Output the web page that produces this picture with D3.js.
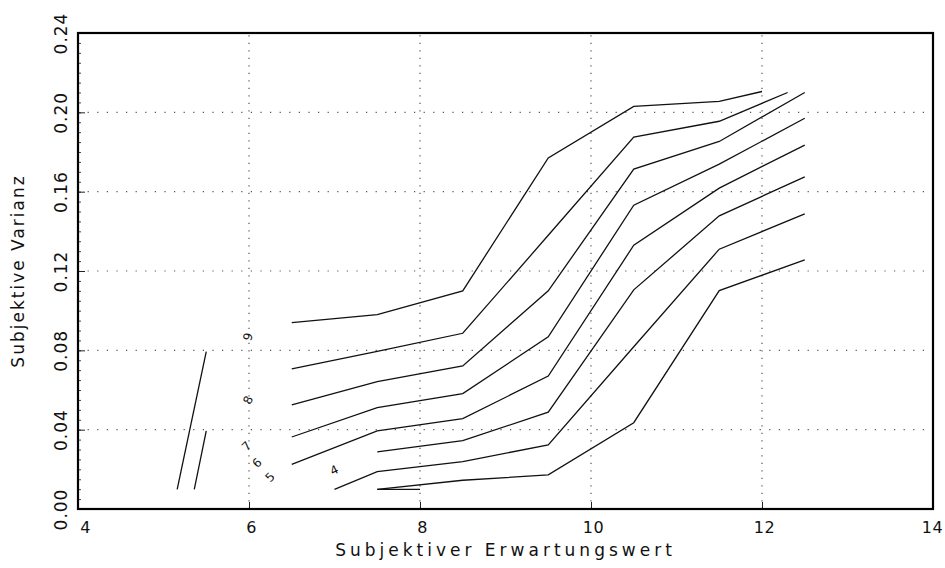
<!DOCTYPE html>
<html>
<head>
<meta charset="utf-8">
<script src="https://cdn.jsdelivr.net/npm/d3@7"></script>
<style>
  body { margin: 0; background: #fff; }
  svg { display: block; }
  text { font-family: "DejaVu Sans", sans-serif; fill: #111; }
</style>
</head>
<body>
<svg width="945" height="568"></svg>
<script>
// axis ticks
var xTicks = [4, 6, 8, 10, 12, 14];
var yTicks = [0.00, 0.04, 0.08, 0.12, 0.16, 0.20, 0.24];

// contour lines, top to bottom (x = Erwartungswert, y = Varianz)
var line1X = [6.5, 7.5, 8.5, 9.5, 10.5, 11.5, 12.0];
var line1Y = [0.094, 0.098, 0.110, 0.177, 0.203, 0.2055, 0.2105];
var line2X = [6.5, 7.5, 8.5, 9.5, 10.5, 11.5, 12.3];
var line2Y = [0.0706, 0.0795, 0.0886, 0.138, 0.1875, 0.1955, 0.2100];
var line3X = [6.5, 7.5, 8.5, 9.5, 10.5, 11.5, 12.5];
var line3Y = [0.0525, 0.0642, 0.0721, 0.110, 0.1714, 0.1853, 0.2100];
var line4X = [6.5, 7.5, 8.5, 9.5, 10.5, 11.5, 12.5];
var line4Y = [0.0363, 0.0511, 0.0582, 0.0868, 0.1532, 0.1739, 0.197];
var line5X = [6.5, 7.5, 8.5, 9.5, 10.5, 11.5, 12.5];
var line5Y = [0.0225, 0.0394, 0.0456, 0.0670, 0.1330, 0.1618, 0.1835];
var line6X = [7.5, 8.5, 9.5, 10.5, 11.5, 12.5];
var line6Y = [0.0288, 0.0345, 0.0488, 0.1105, 0.1478, 0.1675];
var line7X = [7.0, 7.5, 8.5, 9.5, 10.5, 11.5, 12.5];
var line7Y = [0.0099, 0.0188, 0.0239, 0.0323, 0.0818, 0.131, 0.1488];
var line8X = [7.5, 8.5, 9.5, 10.5, 11.5, 12.5];
var line8Y = [0.0099, 0.0145, 0.0172, 0.0435, 0.1101, 0.1256];
var line9X = [7.5, 8.0];
var line9Y = [0.0099, 0.0099];
var leftAX = [5.16, 5.50];
var leftAY = [0.0099, 0.0794];
var leftBX = [5.36, 5.50];
var leftBY = [0.0099, 0.0394];

// contour level labels
var levelText = ['9', '8', '7', '6', '5', '4'];
var levelX = [5.995, 5.995, 5.975, 6.10, 6.25, 7.0];
var levelY = [0.0868, 0.0548, 0.0315, 0.0230, 0.0158, 0.0193];
var levelRot = [-75, -65, -45, -45, -45, -25];

var svg = d3.select('svg');
var pLeft = 78, pRight = 933, pTop = 33, pBottom = 509;

var x = d3.scaleLinear().domain([4, 14]).range([pLeft, pRight]);
var y = d3.scaleLinear().domain([0, 0.24]).range([pBottom, pTop]);

// dotted grid
var grid = svg.append('g');
grid.selectAll('line.h')
    .data(yTicks.slice(1, -1))
    .enter().append('line')
    .attr('class', 'h')
    .attr('x1', pLeft).attr('x2', pRight)
    .attr('y1', function(d) { return y(d); })
    .attr('y2', function(d) { return y(d); })
    .attr('stroke', '#555')
    .attr('stroke-width', 1.2)
    .attr('stroke-dasharray', '1.2,8.4');
grid.selectAll('line.v')
    .data(xTicks.slice(1, -1))
    .enter().append('line')
    .attr('class', 'v')
    .attr('y1', pBottom).attr('y2', pTop)
    .attr('x1', function(d) { return x(d); })
    .attr('x2', function(d) { return x(d); })
    .attr('stroke', '#555')
    .attr('stroke-width', 1.2)
    .attr('stroke-dasharray', '1.2,6.3');

// axes with inward ticks
var xAxis = svg.append('g')
    .attr('transform', 'translate(0,' + pBottom + ')')
    .call(d3.axisBottom(x).tickValues(xTicks).tickSizeInner(-7).tickSizeOuter(0).tickPadding(13)
        .tickFormat(d3.format('d')));
xAxis.select('.domain').remove();
xAxis.selectAll('line').attr('stroke', '#222');
xAxis.selectAll('text')
    .style('font-size', '16px')
    .style('font-family', '"DejaVu Sans", sans-serif')
    .style('letter-spacing', '0.5px')
    .attr('fill', '#111')
    .attr('dx', function(d) { return d === 4 ? 7 : (d === 14 ? -1 : 2); });

var yMinor = svg.append('g')
    .attr('transform', 'translate(' + pLeft + ',0)')
    .call(d3.axisLeft(y).tickValues(d3.range(0, 0.2401, 0.005)).tickSize(-3).tickFormat(''));
yMinor.select('.domain').remove();
yMinor.selectAll('line').attr('stroke', '#444');

var yAxis = svg.append('g')
    .attr('transform', 'translate(' + pLeft + ',0)')
    .call(d3.axisLeft(y).tickValues(yTicks).tickSizeInner(-7).tickSizeOuter(0).tickFormat(d3.format('.2f')));
yAxis.select('.domain').remove();
yAxis.selectAll('line').attr('stroke', '#222');
yAxis.selectAll('text')
    .attr('x', null).attr('dy', null)
    .attr('text-anchor', 'middle')
    .attr('fill', '#111')
    .attr('transform', 'translate(-11,0) rotate(-90)')
    .style('font-size', '17px')
    .style('font-family', '"DejaVu Sans", sans-serif')
    .style('letter-spacing', '1px');

// frame
svg.append('rect')
    .attr('x', pLeft).attr('y', pTop)
    .attr('width', pRight - pLeft).attr('height', pBottom - pTop)
    .attr('fill', 'none')
    .attr('stroke', '#000')
    .attr('stroke-width', 2.2);

// contour lines
var lineGen = d3.line()
    .x(function(d) { return x(d[0]); })
    .y(function(d) { return y(d[1]); });
var allLines = [
  [line1X, line1Y], [line2X, line2Y], [line3X, line3Y], [line4X, line4Y],
  [line5X, line5Y], [line6X, line6Y], [line7X, line7Y], [line8X, line8Y],
  [line9X, line9Y], [leftAX, leftAY], [leftBX, leftBY]
];
svg.append('g').selectAll('path')
    .data(allLines.map(function(p) { return d3.zip(p[0], p[1]); }))
    .enter().append('path')
    .attr('d', lineGen)
    .attr('fill', 'none')
    .attr('stroke', '#111')
    .attr('stroke-width', 1.3);

// level labels
svg.append('g').selectAll('text')
    .data(levelText)
    .enter().append('text')
    .attr('transform', function(d, i) {
        return 'translate(' + x(levelX[i]) + ',' + y(levelY[i]) + ') rotate(' + levelRot[i] + ')';
    })
    .attr('text-anchor', 'middle')
    .attr('dominant-baseline', 'middle')
    .style('font-size', '12px')
    .text(function(d) { return d; });

// axis titles
svg.append('text')
    .attr('x', (pLeft + pRight) / 2)
    .attr('y', 556)
    .attr('text-anchor', 'middle')
    .style('font-size', '17px')
    .style('letter-spacing', '4px')
    .text('Subjektiver Erwartungswert');
svg.append('text')
    .attr('transform', 'translate(24,' + (pTop + pBottom) / 2 + ') rotate(-90)')
    .attr('text-anchor', 'middle')
    .style('font-size', '17px')
    .style('letter-spacing', '2px')
    .text('Subjektive Varianz');
</script>
</body>
</html>
